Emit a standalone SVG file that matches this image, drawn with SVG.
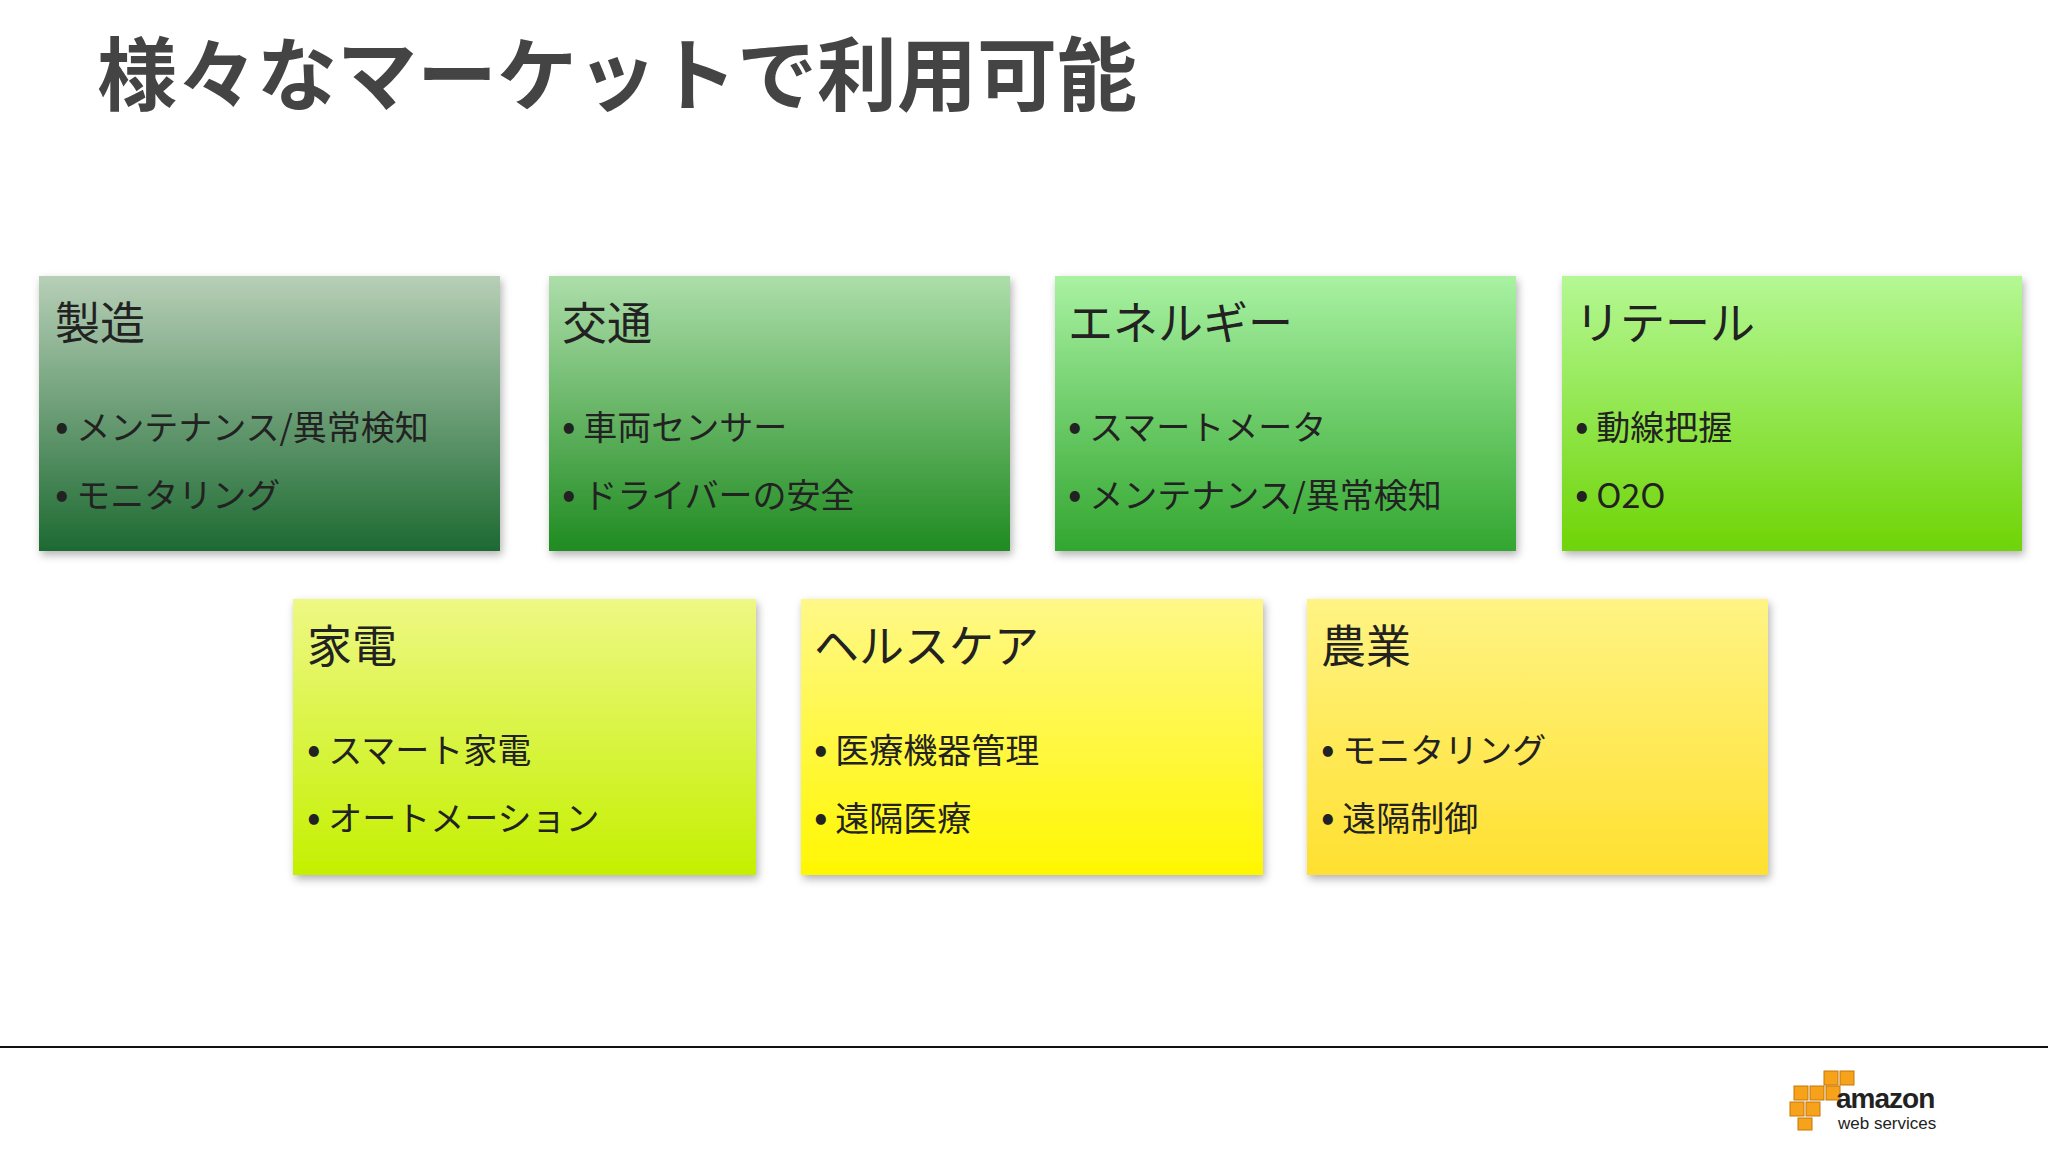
<svg xmlns="http://www.w3.org/2000/svg" width="2048" height="1152" viewBox="0 0 2048 1152">
<style>
.ttl{font-family:"Noto Sans CJK JP","Noto Sans",sans-serif;font-size:45px;fill:#222}
.it{font-family:"Noto Sans CJK JP","Noto Sans",sans-serif;font-size:34px;fill:#222}
.box{filter:url(#sh)}
</style>
<defs>
<filter id="sh" x="-5%" y="-5%" width="112%" height="115%"><feDropShadow dx="2" dy="4" stdDeviation="4" flood-color="#000" flood-opacity="0.3"/></filter>
<linearGradient id="g1" x1="0" y1="0" x2="0" y2="1"><stop offset="0" stop-color="#b7cfb7"/><stop offset="1" stop-color="#1d6a32"/></linearGradient>
<linearGradient id="g2" x1="0" y1="0" x2="0" y2="1"><stop offset="0" stop-color="#addeaa"/><stop offset="1" stop-color="#1f8b20"/></linearGradient>
<linearGradient id="g3" x1="0" y1="0" x2="0" y2="1"><stop offset="0" stop-color="#a9f2a2"/><stop offset="1" stop-color="#32a630"/></linearGradient>
<linearGradient id="g4" x1="0" y1="0" x2="0" y2="1"><stop offset="0" stop-color="#b4f894"/><stop offset="1" stop-color="#6fd406"/></linearGradient>
<linearGradient id="g5" x1="0" y1="0" x2="0" y2="1"><stop offset="0" stop-color="#eef884"/><stop offset="1" stop-color="#c4f000"/></linearGradient>
<linearGradient id="g6" x1="0" y1="0" x2="0" y2="1"><stop offset="0" stop-color="#fff888"/><stop offset="1" stop-color="#fff700"/></linearGradient>
<linearGradient id="g7" x1="0" y1="0" x2="0" y2="1"><stop offset="0" stop-color="#fff484"/><stop offset="1" stop-color="#ffe030"/></linearGradient>
</defs>
<rect width="2048" height="1152" fill="#fff"/>
<text x="97" y="104" style="font-family:'Noto Sans CJK JP',sans-serif;font-size:80px;font-weight:bold;fill:#444">様々なマーケットで利用可能</text>

<g id="n1"><rect class="box" x="39" y="276" width="461" height="275" fill="url(#g1)"/>
<text class="ttl" x="55" y="340">製造</text>
<text class="it" x="55" y="440"><tspan font-size="40">•</tspan> メンテナンス/異常検知</text><text class="it" x="55" y="508"><tspan font-size="40">•</tspan> モニタリング</text></g>
<g id="n2"><rect class="box" x="549" y="276" width="461" height="275" fill="url(#g2)"/>
<text class="ttl" x="562" y="340">交通</text>
<text class="it" x="562" y="440"><tspan font-size="40">•</tspan> 車両センサー</text><text class="it" x="562" y="508"><tspan font-size="40">•</tspan> ドライバーの安全</text></g>
<g id="n3"><rect class="box" x="1055" y="276" width="461" height="275" fill="url(#g3)"/>
<text class="ttl" x="1068" y="340">エネルギー</text>
<text class="it" x="1068" y="440"><tspan font-size="40">•</tspan> スマートメータ</text><text class="it" x="1068" y="508"><tspan font-size="40">•</tspan> メンテナンス/異常検知</text></g>
<g id="n4"><rect class="box" x="1562" y="276" width="460" height="275" fill="url(#g4)"/>
<text class="ttl" x="1575" y="340">リテール</text>
<text class="it" x="1575" y="440"><tspan font-size="40">•</tspan> 動線把握</text><text class="it" x="1575" y="508"><tspan font-size="40">•</tspan> O2O</text></g>
<g id="n5"><rect class="box" x="293" y="599" width="463" height="276" fill="url(#g5)"/>
<text class="ttl" x="307" y="663">家電</text>
<text class="it" x="307" y="763"><tspan font-size="40">•</tspan> スマート家電</text><text class="it" x="307" y="831"><tspan font-size="40">•</tspan> オートメーション</text></g>
<g id="n6"><rect class="box" x="801" y="599" width="462" height="276" fill="url(#g6)"/>
<text class="ttl" x="814" y="663">ヘルスケア</text>
<text class="it" x="814" y="763"><tspan font-size="40">•</tspan> 医療機器管理</text><text class="it" x="814" y="831"><tspan font-size="40">•</tspan> 遠隔医療</text></g>
<g id="n7"><rect class="box" x="1307" y="599" width="461" height="276" fill="url(#g7)"/>
<text class="ttl" x="1321" y="663">農業</text>
<text class="it" x="1321" y="763"><tspan font-size="40">•</tspan> モニタリング</text><text class="it" x="1321" y="831"><tspan font-size="40">•</tspan> 遠隔制御</text></g>
<g id="connectors"></g>
<line x1="0" y1="1047" x2="2048" y2="1047" stroke="#111" stroke-width="2"/>
<g id="aws">
<g fill="#f7a21b" stroke="#c4760a" stroke-width="1">
<rect x="1824" y="1071" width="14" height="14"/><rect x="1840" y="1071" width="14" height="14"/>
<rect x="1794" y="1086" width="14" height="14"/><rect x="1810" y="1086" width="14" height="14"/><rect x="1826" y="1086" width="14" height="14"/>
<rect x="1790" y="1102" width="14" height="14"/><rect x="1806" y="1102" width="14" height="14"/>
<rect x="1798" y="1118" width="14" height="12"/>
</g>
<text x="1836" y="1108" style="font-family:'Liberation Sans',sans-serif;font-size:28px;font-weight:bold;fill:#222;letter-spacing:-1px">amazon</text>
<text x="1838" y="1129" style="font-family:'Liberation Sans',sans-serif;font-size:17px;fill:#222">web services</text>
</g>
</svg>
